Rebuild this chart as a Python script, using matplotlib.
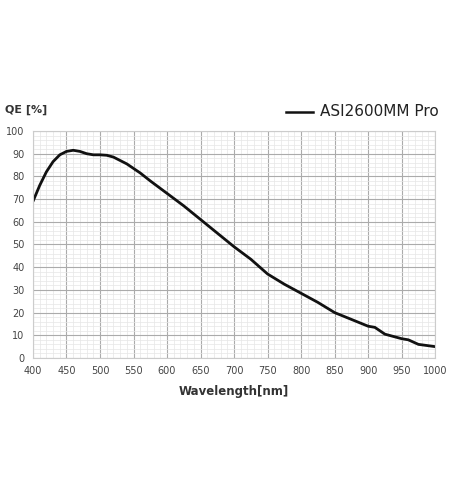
import numpy as np
import matplotlib.pyplot as plt
from matplotlib.ticker import MultipleLocator

# QE curve
wavelength = [400, 410, 420, 430, 440, 450, 460, 470, 480, 490, 500, 510, 520,
              530, 540, 550, 560, 575, 600, 625, 650, 675, 700, 725, 750, 775,
              800, 825, 850, 875, 900, 910, 925, 950, 960, 975, 1000]
qe = [69, 76, 82, 86.5, 89.5, 91, 91.5, 91, 90, 89.5, 89.5, 89.3, 88.5,
      87, 85.5, 83.5, 81.5, 78, 72.5, 67, 61, 55, 49, 43.5, 37, 32.5,
      28.5, 24.5, 20, 17, 14, 13.5, 10.5, 8.5, 8, 6, 5]
series_name = 'ASI2600MM Pro'

fig = plt.figure(figsize=(4.5, 5.03), dpi=100)
ax = fig.add_axes([0.0733, 0.2883, 0.8937, 0.4513])

ax.plot(wavelength, qe, color='#111111', lw=2.0, solid_capstyle='round',
        solid_joinstyle='round')

ax.set_xlim(400, 1000)
ax.set_ylim(0, 100)
ax.xaxis.set_major_locator(MultipleLocator(50))
ax.xaxis.set_minor_locator(MultipleLocator(10))
ax.yaxis.set_major_locator(MultipleLocator(10))
ax.yaxis.set_minor_locator(MultipleLocator(2))
ax.grid(which='major', color='#ababab', lw=0.8)
ax.grid(which='minor', color='#e6e6e6', lw=0.5)
ax.set_axisbelow(True)
for s in ax.spines.values():
    s.set_color('#cccccc')
    s.set_linewidth(0.8)
ax.tick_params(which='both', length=0, labelsize=7, colors='#444444', pad=6)

ax.set_xlabel('Wavelength[nm]', fontsize=8.5, fontweight='bold', color='#333333', labelpad=6)
fig.text(0.011, 0.781, 'QE [%]', fontsize=8, fontweight='bold', color='#333333',
         va='center', ha='left')

# legend drawn by hand at the top right
fig.lines.append(plt.Line2D([0.635, 0.695], [0.778, 0.778], color='#111111', lw=1.8,
                            transform=fig.transFigure))
fig.text(0.712, 0.778, series_name, fontsize=11, color='#222222', va='center', ha='left')

fig.savefig('out.png', dpi=100)
